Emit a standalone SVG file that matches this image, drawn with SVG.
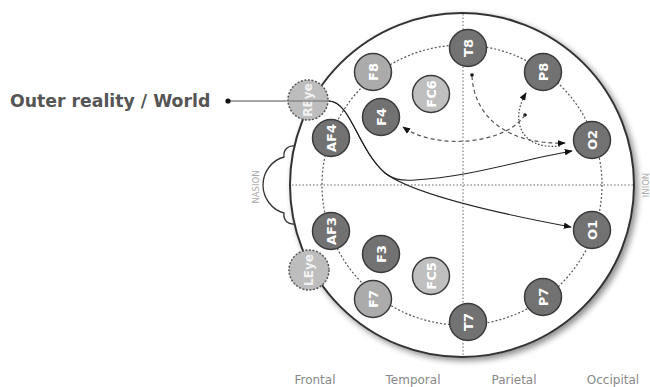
<svg xmlns="http://www.w3.org/2000/svg" width="650" height="387" viewBox="0 0 650 387">
<defs>
<filter id="sh" x="-10%" y="-10%" width="125%" height="125%">
<feGaussianBlur in="SourceAlpha" stdDeviation="3"/>
<feOffset dx="3" dy="3"/>
<feComponentTransfer><feFuncA type="linear" slope="0.45"/></feComponentTransfer>
<feMerge><feMergeNode/><feMergeNode in="SourceGraphic"/></feMerge>
</filter>
<marker id="ah" viewBox="0 0 10 8" refX="9" refY="4" markerWidth="8" markerHeight="6.5" markerUnits="userSpaceOnUse" orient="auto"><path d="M0,0 L10,4 L0,8 z" fill="#111"/></marker>
</defs>
<style>
.nd circle{stroke:#3a3a3a;stroke-width:1.5}
.dk circle{fill:#727272}
.lt circle{fill:#ababab}
.lt2 circle{fill:#bfbfbf}
.eye circle{fill:#bdbdbd;stroke:#555;stroke-dasharray:2 1.6}
.nd text{font-family:"DejaVu Sans",Verdana,sans-serif;font-weight:bold;font-size:13px;fill:#fff;text-anchor:middle;dominant-baseline:central}
.eye text{font-size:12px;fill:#f2f2f2}
.lbl{font-family:"DejaVu Sans",Verdana,sans-serif;font-size:12px;fill:#888;text-anchor:middle}
.side{font-family:"DejaVu Sans",Verdana,sans-serif;font-size:8.5px;fill:#aaa;text-anchor:middle;dominant-baseline:central}
.axis{stroke:#999;stroke-width:1.5;stroke-dasharray:1.5 2;fill:none}
.ring{stroke:#555;stroke-width:1.2;stroke-dasharray:2 2;fill:none}
.solid{stroke:#222;stroke-width:1.1;fill:none}
.dash{stroke:#555;stroke-width:1.2;stroke-dasharray:4 3;fill:none}
.dot{stroke:#444;stroke-width:1.2;stroke-dasharray:1.6 1.8;fill:none}
</style>
<g id="head">
<path d="M295,146 C288,145 283,150 284,157 C272,160 263,172 263,185 C263,198 272,210 284,213 C283,220 288,225 295,224" fill="#fff" stroke="#333" stroke-width="1.3"/>
<circle cx="462" cy="185" r="172" fill="#fff" stroke="#333" stroke-width="2" filter="url(#sh)"/>
<line class="axis" x1="463" y1="14" x2="463" y2="357"/>
<line class="axis" x1="292" y1="185" x2="633" y2="185"/>
<circle class="ring" cx="462" cy="185" r="140"/>
<text class="side" transform="rotate(-90 256 187)" x="256" y="187">NASION</text>
<text class="side" transform="rotate(-90 646 185)" x="646" y="185">INION</text>
</g>
<g id="labels">
<text class="lbl" x="315" y="384">Frontal</text>
<text class="lbl" x="413" y="384">Temporal</text>
<text class="lbl" x="514" y="384">Parietal</text>
<text class="lbl" x="613" y="384">Occipital</text>
<text x="10" y="107" font-family="'DejaVu Sans',Verdana,sans-serif" font-weight="bold" font-size="17.3" fill="#555">Outer reality / World</text>
</g>
<g id="T8" class="nd dk"><circle cx="468" cy="48" r="18.5"/><text transform="rotate(-90 468 48)" x="468" y="48">T8</text></g>
<g id="P8" class="nd dk"><circle cx="543" cy="72" r="18.5"/><text transform="rotate(-90 543 72)" x="543" y="72">P8</text></g>
<g id="O2" class="nd dk"><circle cx="592" cy="140" r="18.5"/><text transform="rotate(-90 592 140)" x="592" y="140">O2</text></g>
<g id="O1" class="nd dk"><circle cx="592" cy="230" r="18.5"/><text transform="rotate(-90 592 230)" x="592" y="230">O1</text></g>
<g id="P7" class="nd dk"><circle cx="543" cy="297" r="18.5"/><text transform="rotate(-90 543 297)" x="543" y="297">P7</text></g>
<g id="T7" class="nd dk"><circle cx="468" cy="322" r="18.5"/><text transform="rotate(-90 468 322)" x="468" y="322">T7</text></g>
<g id="F8" class="nd lt"><circle cx="373" cy="72" r="18.5"/><text transform="rotate(-90 373 72)" x="373" y="72">F8</text></g>
<g id="F7" class="nd lt"><circle cx="373" cy="299" r="18.5"/><text transform="rotate(-90 373 299)" x="373" y="299">F7</text></g>
<g id="FC6" class="nd lt2"><circle cx="431" cy="94" r="18.5"/><text transform="rotate(-90 431 94)" x="431" y="94">FC6</text></g>
<g id="FC5" class="nd lt2"><circle cx="431" cy="276" r="18.5"/><text transform="rotate(-90 431 276)" x="431" y="276">FC5</text></g>
<g id="F4" class="nd dk"><circle cx="381" cy="117" r="18.5"/><text transform="rotate(-90 381 117)" x="381" y="117">F4</text></g>
<g id="F3" class="nd dk"><circle cx="381" cy="254" r="18.5"/><text transform="rotate(-90 381 254)" x="381" y="254">F3</text></g>
<g id="AF4" class="nd dk"><circle cx="331" cy="138" r="18.5"/><text transform="rotate(-90 331 138)" x="331" y="138">AF4</text></g>
<g id="AF3" class="nd dk"><circle cx="331" cy="231" r="18.5"/><text transform="rotate(-90 331 231)" x="331" y="231">AF3</text></g>
<g id="REye" class="nd eye"><circle cx="308" cy="100" r="20"/><text transform="rotate(-90 308 100)" x="308" y="100">REye</text></g>
<g id="LEye" class="nd eye"><circle cx="309" cy="270" r="20"/><text transform="rotate(-90 309 270)" x="309" y="270">LEye</text></g>
<g id="connectors">
<line x1="228" y1="101" x2="330" y2="101" stroke="#888" stroke-width="1.5"/>
<circle cx="228" cy="101" r="2.6" fill="#111"/>
<path class="solid" d="M329,101 C351,102 357,148 385,173 C410,192 480,210 571,227" marker-end="url(#ah)"/>
<path class="solid" d="M329,101 C351,102 357,148 385,173 C392,179 400,181 415,180 C470,177 520,160 572,151" marker-end="url(#ah)"/>
<circle cx="472" cy="75" r="1.8" fill="#111"/>
<path class="dash" d="M472,76 C474,115 505,145 565,143" marker-end="url(#ah)"/>
<circle cx="525" cy="115" r="1.8" fill="#111"/>
<path class="dash" d="M525,115 C505,145 435,150 403,127" marker-end="url(#ah)"/>
<path class="dot" d="M560,146 C520,150 510,120 526,93" marker-end="url(#ah)"/>
</g>
</svg>
